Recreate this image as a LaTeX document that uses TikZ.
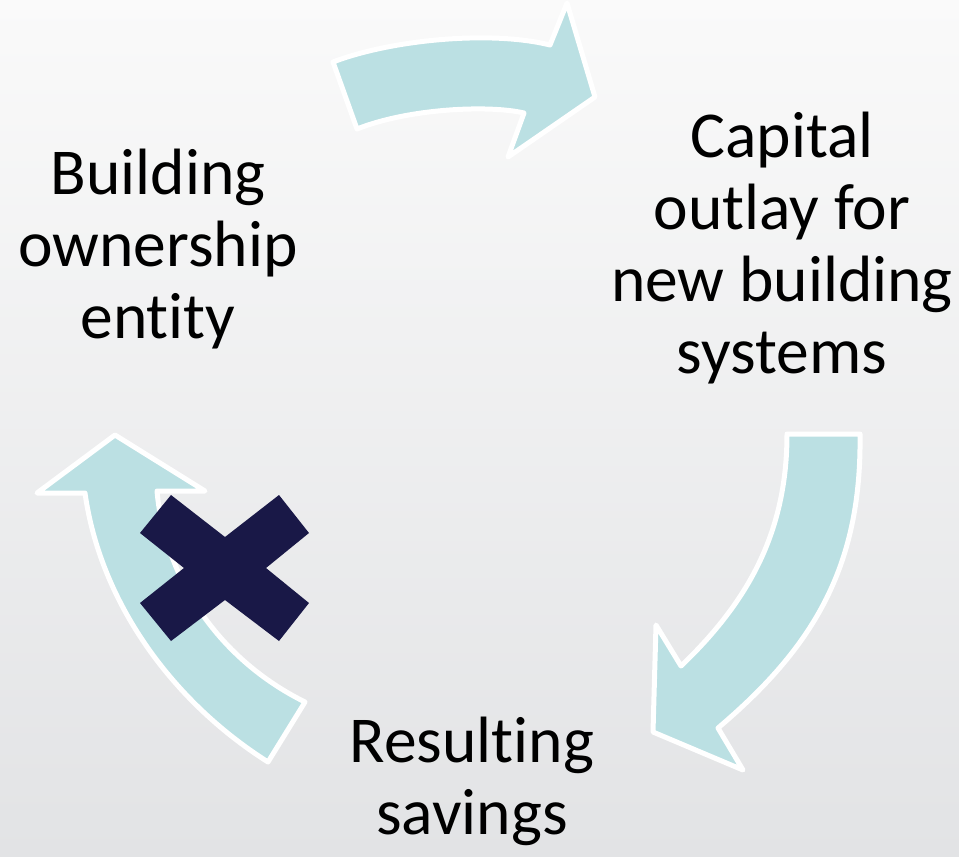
\documentclass[tikz,border=0pt]{standalone}
\usepackage{fontspec}
\setmainfont[Ligatures={NoCommon,NoRequired,NoContextual}]{Carlito}
\definecolor{bgtop}{RGB}{250,250,250}
\definecolor{bgbot}{RGB}{226,227,229}
\definecolor{arrowfill}{RGB}{187,224,227}
\definecolor{xnavy}{RGB}{25,24,71}
\tikzset{
  blockarrow/.style={fill=arrowfill, draw=white, line width=5pt, line join=round},
  crossmark/.style={fill=xnavy, draw=none},
  label/.style={align=center, anchor=base, inner sep=0pt, font=\fontsize{65.5}{72}\selectfont, text=black}
}
\begin{document}
\begin{tikzpicture}[x=1pt,y=-1pt]
  \useasboundingbox (0,0) rectangle (959,857);
  \shade[top color=bgtop, bottom color=bgbot] (0,0) rectangle (959,857);

  % top arrow
  \path[blockarrow] (333,62) .. controls (390,40) and (490,30) .. (550,45)
    -- (567,3) -- (595,97) -- (508,157) -- (524,113)
    .. controls (490,105) and (410,108) .. (357,129) -- cycle;

  % right arrow
  \path[blockarrow] (787,434) -- (860,434)
    .. controls (862,570) and (810,650) .. (718,728)
    -- (743,770) -- (653,732) -- (656,625) -- (681,666)
    .. controls (750,600) and (787,530) .. (787,434) -- cycle;

  % left arrow
  \path[blockarrow] (305,702) -- (268,762)
    .. controls (170,700) and (100,600) .. (85,493)
    -- (37,493) -- (115,435) -- (205,491) -- (157,491)
    .. controls (165,580) and (220,660) .. (305,702) -- cycle;

  % cross
  \path[crossmark] (140,533) -- (171,495) -- (225,537) -- (279,495) -- (309,533)
    -- (266,568) -- (309,603) -- (279,641) -- (225,600) -- (171,641)
    -- (140,603) -- (184,568) -- cycle;

  \node[label] (owner) at (158,338) {Building\\ownership\\ent\kern0pt ity};
  \node[label] (capital) at (782,373) {Capital\\outlay for\\new building\\systems};
  \node[label] (savings) at (472,834) {Result\kern0pt ing\\savings};
\end{tikzpicture}
\end{document}
